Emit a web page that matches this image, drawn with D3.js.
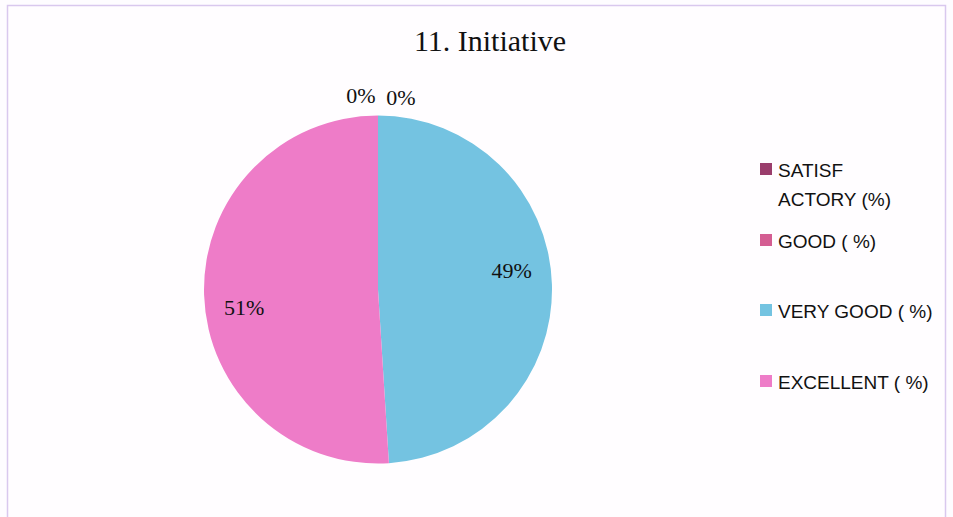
<!DOCTYPE html>
<html><head><meta charset="utf-8">
<script src="https://cdn.jsdelivr.net/npm/d3@7/dist/d3.min.js"></script>
<style>body{margin:0;background:#fff;}svg{display:block;}</style>
</head><body>
<svg id="c" width="953" height="517"></svg>
<script>
const title = "11. Initiative";
const categories = ["SATISFACTORY (%)", "GOOD ( %)", "VERY GOOD ( %)", "EXCELLENT ( %)"];
const legendLines = [["SATISF", "ACTORY (%)"], ["GOOD ( %)"], ["VERY GOOD ( %)"], ["EXCELLENT ( %)"]];
const values = [0, 0, 49, 51];
const colors = ["#9a3d6c", "#d45d92", "#74c3e1", "#ee7cc8"];

const svg = d3.select("#c");
svg.append("rect").attr("x", 0).attr("y", 0).attr("width", 953).attr("height", 517).attr("fill", "#fefcff");
svg.append("rect").attr("x", 7.5).attr("y", 5.5).attr("width", 938).attr("height", 520)
  .attr("fill", "#fffdff").attr("stroke", "#d9c8ee").attr("stroke-width", 1.5);

svg.append("text").attr("x", 490).attr("y", 51).attr("text-anchor", "middle")
  .attr("font-family", "Liberation Serif, Times New Roman, serif").attr("font-size", 30)
  .attr("fill", "#111").text(title);

const cx = 378, cy = 289.5, r = 174;
const pie = d3.pie().sort(null).value(d => d).startAngle(0).endAngle(2 * Math.PI);
const arcs = pie(values);
const arc = d3.arc().innerRadius(0).outerRadius(r);
const shift = -6 * Math.PI / 180;
const labelArc = d3.arc().innerRadius(135).outerRadius(135)
  .startAngle(d => d.startAngle + shift).endAngle(d => d.endAngle + shift);
const outerArc = d3.arc().innerRadius(r + 13).outerRadius(r + 13);

const g = svg.append("g").attr("transform", `translate(${cx},${cy})`);
g.selectAll("path").data(arcs).enter().append("path")
  .attr("d", arc).attr("fill", (d, i) => colors[i]);

const fmt = d => Math.round(d) + "%";
const total = d3.sum(values);
g.selectAll("text.lbl").data(arcs).enter().append("text")
  .attr("class", "lbl")
  .attr("font-family", "Liberation Serif, Times New Roman, serif").attr("font-size", 22)
  .attr("fill", "#111").attr("text-anchor", "middle")
  .attr("transform", (d, i) => {
    if (d.value === 0) {
      const p = outerArc.centroid(d);
      const dx = i === 0 ? -17 : 23;
      const dy = i === 0 ? 0 : 2;
      return `translate(${p[0] + dx},${p[1] + dy})`;
    }
    const p = labelArc.centroid(d);
    return `translate(${p[0]},${p[1] + 7})`;
  })
  .text(d => fmt(d.value / total * 100));

const swatchTop = [163, 234, 304, 375];
const lg = svg.append("g");
categories.forEach((c, i) => {
  lg.append("rect").attr("x", 760).attr("y", swatchTop[i]).attr("width", 12).attr("height", 12).attr("fill", colors[i]);
  legendLines[i].forEach((t, j) => {
    lg.append("text").attr("x", 778).attr("y", swatchTop[i] + 14 + j * 29)
      .attr("font-family", "Liberation Sans, Arial, sans-serif").attr("font-size", 19)
      .attr("fill", "#111").text(t);
  });
});
</script>
</body></html>
